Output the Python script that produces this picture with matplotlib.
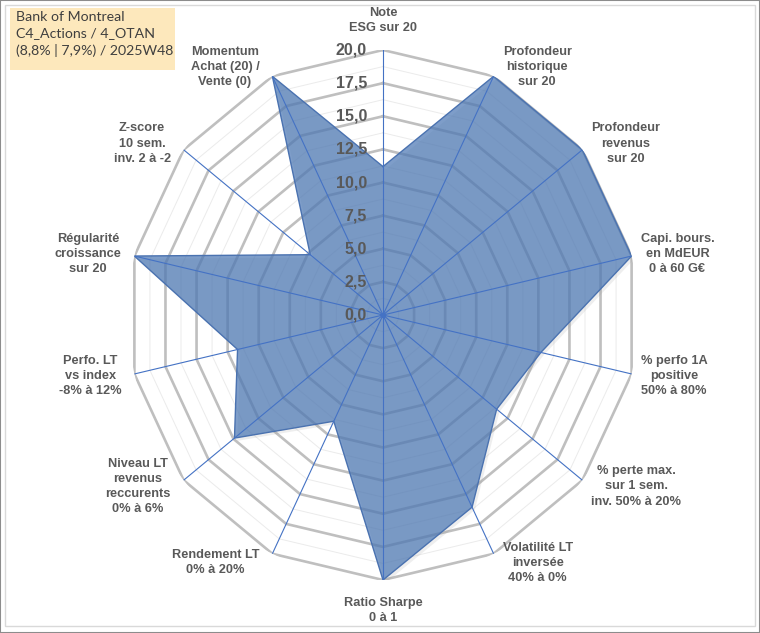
import numpy as np
import matplotlib.pyplot as plt
import matplotlib.patheffects as pe
from matplotlib.patches import Rectangle

# axes of the radar, clockwise from the top
categories = [
    "Note\nESG sur 20",
    "Profondeur\nhistorique\nsur 20",
    "Profondeur\nrevenus\nsur 20",
    "Capi. bours.\nen MdEUR\n0 à 60 G€",
    "% perfo 1A\npositive\n50% à 80%",
    "% perte max.\nsur 1 sem.\ninv. 50% à 20%",
    "Volatilité LT\ninversée\n40% à 0%",
    "Ratio Sharpe\n0 à 1",
    "Rendement LT\n0% à 20%",
    "Niveau LT\nrevenus\nreccurents\n0% à 6%",
    "Perfo. LT\nvs index\n-8% à 12%",
    "Régularité\ncroissance\nsur 20",
    "Z-score\n10 sem.\ninv. 2 à -2",
    "Momentum\nAchat (20) /\nVente (0)",
]
scores = [11.2, 20.0, 20.0, 20.0, 12.7, 11.4, 16.1, 20.0, 8.9, 14.9, 11.7, 20.0, 7.3, 20.0]
ring_ticks = [0.0, 2.5, 5.0, 7.5, 10.0, 12.5, 15.0, 17.5, 20.0]
minor_rings = [1.25, 3.75, 6.25, 8.75, 11.25, 13.75, 16.25, 18.75]
titre = "Bank of Montreal\nC4_Actions / 4_OTAN\n(8,8% | 7,9%) / 2025W48"

W, H = 760, 633
fig = plt.figure(figsize=(W / 100, H / 100), dpi=100, facecolor="white")

# cadre du graphique
fig.patches.append(Rectangle((0, 0), 1, 1, transform=fig.transFigure,
                             facecolor="none", edgecolor="#8C8C8C", lw=1.5, zorder=0))
fig.patches.append(Rectangle((5 / W, 1 - 626 / H), 750 / W, 621 / H, transform=fig.transFigure,
                             facecolor="none", edgecolor="#D9D9D9", lw=1.0, zorder=0))

cx, cy, rx, ry = 383, 315, 255, 265
ax = fig.add_axes([(cx - rx) / W, (H - cy - ry) / H, 2 * rx / W, 2 * ry / H], projection="polar")
ax.set_aspect("auto")
ax.set_theta_zero_location("N")
ax.set_theta_direction(-1)
ax.set_ylim(0, 20)
ax.grid(False)
ax.set_xticks([])
ax.set_yticks([])
ax.spines["polar"].set_visible(False)
ax.patch.set_alpha(0)

n = len(categories)
angles = np.arange(n) * 2 * np.pi / n
closed = np.append(angles, angles[0])

# grille polygonale
for r in minor_rings:
    ax.plot(closed, [r] * (n + 1), color="#EBEBEB", lw=0.7, zorder=1)
for r in ring_ticks[1:]:
    ax.plot(closed, [r] * (n + 1), color="#BFBFBF", lw=1.9, zorder=1)

vals = np.append(scores, scores[0])
poly = ax.fill(closed, vals, color="#4C78B4", alpha=0.72, zorder=2, lw=0)[0]
poly.set_path_effects([pe.SimplePatchShadow(offset=(2, -2), shadow_rgbFace="#909090", alpha=0.15),
                       pe.Normal()])
ax.plot(closed, vals, color="#4A72B0", lw=1.0, zorder=3)

# rayons
for a in angles:
    ax.plot([a, a], [0, 20], color="#4472C4", lw=0.8, zorder=4)
ax.plot([0], [0], "o", color="#4472C4", ms=3, zorder=5)

# valeurs de l'axe radial
for v in ring_ticks:
    ax.annotate(f"{v:.1f}".replace(".", ","), xy=(0, v), xytext=(-16, 0),
                textcoords="offset pixels", ha="right", va="center",
                fontsize=11.5, fontweight="bold", color="#595959",
                family="Liberation Sans", zorder=6)

# libellés des catégories
for a, lab in zip(angles, categories):
    s, c = np.sin(a), np.cos(a)
    if abs(s) < 0.1:
        ha = "center"
        va = "bottom" if c > 0 else "top"
        off = (0, 16 if c > 0 else -17)
    else:
        ha = "left" if s > 0 else "right"
        va = "center"
        off = (9 if s > 0 else -13, 10 * c)
    ax.annotate(lab, xy=(a, 20), xytext=off, textcoords="offset pixels",
                ha=ha, va=va, multialignment="center", linespacing=1.35,
                fontsize=9.2, fontweight="bold", color="#595959",
                family="Liberation Sans", annotation_clip=False)

# titre encadré
fig.patches.append(Rectangle((10 / W, 1 - 70 / H), 165 / W, 62 / H, transform=fig.transFigure,
                             facecolor="#FDE8BC", edgecolor="none", zorder=1))
fig.text(16 / W, 1 - 11 / H, titre, ha="left", va="top", fontsize=10.2,
         family="Lato", color="#3F3F3F", linespacing=1.45)

fig.savefig("out.png", dpi=100)
